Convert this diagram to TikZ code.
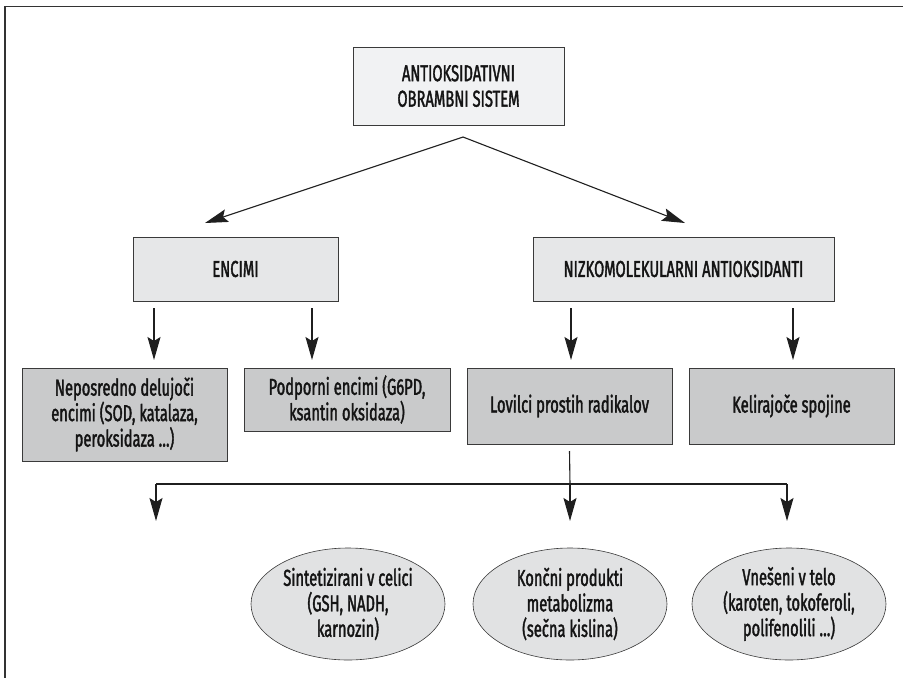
\documentclass[tikz,border=0pt]{standalone}
\usepackage{fontspec}
\setmainfont{Fira Sans}[FakeStretch=0.64,FakeBold=1.6]
\usetikzlibrary{arrows.meta,shapes.geometric}

\definecolor{framegray}{HTML}{333333}
\definecolor{edgegray}{HTML}{3A3A3A}
\definecolor{topfill}{HTML}{F1F2F3}
\definecolor{midfill}{HTML}{E6E7E8}
\definecolor{lowfill}{HTML}{C9CACB}
\definecolor{ovalfill}{HTML}{E1E2E3}

\tikzset{
  base/.style={draw=edgegray, line width=0.9pt, align=center, inner sep=0pt,
    font=\fontsize{23}{25.5}\selectfont, text=black!92},
  topbox/.style={base, fill=topfill, minimum width=211pt, minimum height=78pt},
  midbox/.style={base, fill=midfill, minimum height=64pt},
  lowbox/.style={base, fill=lowfill},
  oval/.style={base, ellipse, fill=ovalfill, line width=0.6pt, minimum width=194pt, minimum height=112pt},
  link/.style={line width=1.1pt, black!88},
  arr/.style={link, -{Stealth[length=23pt,width=13pt,inset=4pt]}}
}

\begin{document}
\begin{tikzpicture}[x=1pt,y=-1pt]
  \useasboundingbox (0,0) rectangle (903,678);
  % open frame: top and left edges
  \draw[framegray, line width=1.8pt] (903,6.5) -- (4.8,6.5) -- (4.8,678);

  % boxes
  \node[topbox] (root) at (458.5,86) {ANTIOKSIDATIVNI\\OBRAMBNI SISTEM};
  \node[midbox, minimum width=205pt] (enc) at (235.5,269) {ENCIMI};
  \node[midbox, minimum width=301pt] (nizko) at (683.5,269) {NIZKOMOLEKULARNI ANTIOKSIDANTI};

  \node[lowbox, minimum width=205pt, minimum height=93pt] (nep) at (124.5,414.5)
    {Neposredno delujoči\\encimi (SOD, katalaza,\\peroksidaza \dots)};
  \node[lowbox, minimum width=206pt, minimum height=63pt] (pod) at (347,399.5)
    {Podporni encimi (G6PD,\\ksantin oksidaza)};
  \node[lowbox, minimum width=205pt, minimum height=76pt] (lov) at (569.5,406)
    {Lovilci prostih radikalov};
  \node[lowbox, minimum width=205pt, minimum height=76pt] (kel) at (791.5,406)
    {Kelirajoče spojine};

  \node[oval] (sint) at (348,604) {Sintetizirani v celici\\(GSH, NADH,\\karnozin)};
  \node[oval] (konc) at (570,604) {Končni produkti\\metabolizma\\(sečna kislina)};
  \node[oval] (vnes) at (789,604) {Vnešeni v telo\\(karoten, tokoferoli,\\polifenolili \dots)};

  % root to the two groups
  \coordinate (apex) at (463,137);
  \coordinate (encTip) at (205,223);
  \coordinate (nizTip) at (685,223);
  \draw[arr] (apex) -- (encTip);
  \draw[arr] (apex) -- (nizTip);

  % groups to their members
  \draw[arr] (154,308) -- (154,360);
  \draw[arr] (312,308) -- (312,360);
  \draw[arr] (571,308) -- (571,360);
  \draw[arr] (793,308) -- (793,360);

  % free radical scavengers split
  \coordinate (split) at (570,484);
  \draw[link] (lov.south |- 0,451) -- (split);
  \draw[link] (156,484) -- (787,484);
  \draw[arr] (156,484) -- (156,521);
  \draw[arr] (split) -- (570,521);
  \draw[arr] (787,484) -- (787,521);
\end{tikzpicture}
\end{document}
